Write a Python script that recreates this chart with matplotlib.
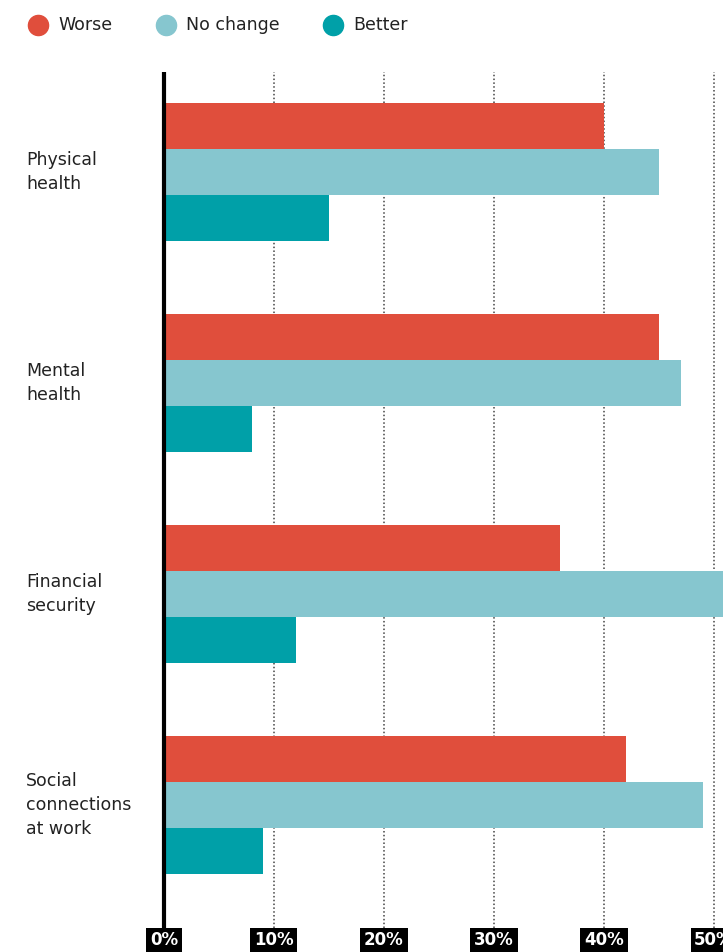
import numpy as np
import matplotlib.pyplot as plt
from matplotlib.lines import Line2D

categories = ["Physical\nhealth", "Mental\nhealth", "Financial\nsecurity", "Social\nconnections\nat work"]
worse = [40, 45, 36, 42]
no_change = [45, 47, 52, 49]
better = [15, 8, 12, 9]
series_names = ["Worse", "No change", "Better"]
ticks = [0, 10, 20, 30, 40, 50]

colors = ["#E04E3C", "#86C6CF", "#00A0A8"]

W, H = 723, 952
fig = plt.figure(figsize=(W / 100, H / 100), dpi=100)

# axes placed in pixel terms
ax_left, ax_right, ax_top, ax_bottom = 150, 723, 72, 928
ax = fig.add_axes([ax_left / W, (H - ax_bottom) / H, (ax_right - ax_left) / W, (ax_bottom - ax_top) / H])

y = np.arange(len(categories))
h = 0.218
for vals, off, c in zip([worse, no_change, better], [-h, 0, h], colors):
    ax.barh(y + off, vals, height=h, color=c, zorder=2, linewidth=0)

ax.set_xlim(-1.27, 50.82)
ax.set_ylim(3.583, -0.474)

for t in ticks[1:]:
    ax.axvline(t, color="#444444", linestyle=(0, (1, 1.5)), linewidth=1.1, zorder=1)
ax.axvline(0, color="black", linewidth=3, zorder=3)

for s in ax.spines.values():
    s.set_visible(False)
ax.set_xticks([])
ax.set_yticks([])

# tick labels in black boxes under the axis
for t in ticks:
    ax.text(t, -0.004, f"{t}%", transform=ax.get_xaxis_transform(), ha="center", va="top",
            color="white", fontsize=12, fontweight="semibold", clip_on=False,
            bbox=dict(boxstyle="square,pad=0.22", facecolor="black", edgecolor="none"))

# category labels
for i, lab in enumerate(categories):
    yy = ax.transData.transform((0, i))[1]
    fig.text(26 / W, yy / H, lab, ha="left", va="center", fontsize=12.5, color="#222222",
             linespacing=1.4)

# legend
leg_x = [38, 166, 333]
for x, name, c in zip(leg_x, series_names, colors):
    fig.add_artist(Line2D([x / W], [(H - 25) / H], marker="o", markersize=14.5, color=c,
                          linestyle="none", transform=fig.transFigure))
    fig.text((x + 20) / W, (H - 25) / H, name, ha="left", va="center", fontsize=12.5, color="#222222")

fig.savefig("out.png", dpi=100)
